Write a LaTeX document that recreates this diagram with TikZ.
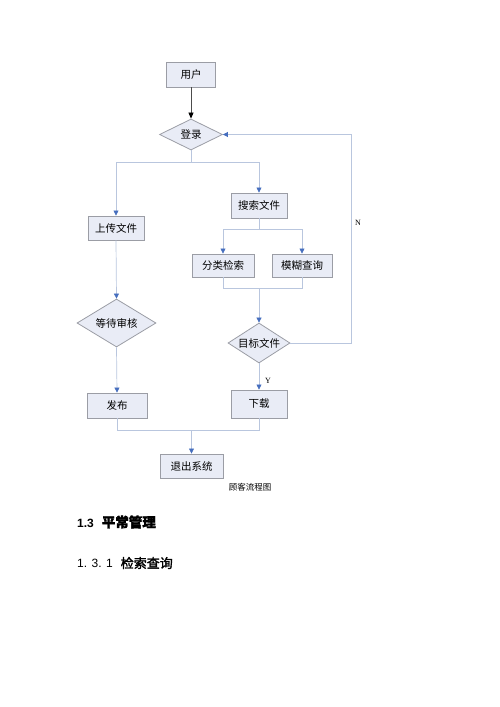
\documentclass[tikz,border=0pt]{standalone}
\usepackage{fontspec}
\setmainfont{Liberation Serif}
\newfontfamily\cjk{Noto Sans CJK SC}
\newfontfamily\cjkbold[FakeBold=2]{Noto Sans CJK SC}
\newfontfamily\headsans{Liberation Sans}
\usetikzlibrary{arrows.meta,shapes.geometric}

\definecolor{boxfill}{RGB}{233,236,246}
\definecolor{boxline}{RGB}{155,157,165}
\definecolor{flowline}{RGB}{185,198,222}
\definecolor{tipblue}{RGB}{70,110,190}

\begin{document}
\begin{tikzpicture}[x=1pt,y=-1pt,
  box/.style={draw=boxline, fill=boxfill, line width=0.9pt, minimum height=25, inner sep=0, font=\cjk\fontsize{10.5}{12}\selectfont},
  decision/.style={diamond, aspect=2, draw=boxline, fill=boxfill, line width=0.8pt, inner sep=0, font=\cjk\fontsize{10.5}{12}\selectfont},
  flow/.style={draw=flowline, line width=0.7pt},
  flowto/.style={flow, -{Triangle[width=5pt,length=5pt,color=tipblue]}}]
\useasboundingbox (0,0) rectangle (500,707);

% Steps of the flow
\node[box, minimum width=49] (user) at (191,74.5) {用户};
\node[decision, minimum width=63, minimum height=31] (login) at (191,134.5) {登录};
\node[box, minimum width=56, minimum height=24] (upload) at (116,228) {上传文件};
\node[box, minimum width=56] (search) at (259,205.5) {搜索文件};
\node[box, minimum width=62, minimum height=23] (sort) at (223,265.5) {分类检索};
\node[box, minimum width=60, minimum height=23] (fuzzy) at (302,265.5) {模糊查询};
\node[decision, minimum width=62, minimum height=40] (target) at (259,343) {目标文件};
\node[decision, minimum width=79, minimum height=48] (review) at (116.5,323) {等待审核};
\node[box, minimum width=60] (publish) at (117,405.5) {发布};
\node[box, minimum width=56, minimum height=28] (download) at (259,404) {下载};
\node[box, minimum width=63, minimum height=24] (quit) at (191.5,466) {退出系统};

% Entry
\draw[draw=black!70, line width=0.7pt, -{Triangle[width=5pt,length=6pt,color=black]}] (user) -- (login);

% Split under login
\coordinate (split1) at (191,162);
\draw[flow] (login.south) -- (split1);
\draw[flowto] (split1) -| (upload.north);
\draw[flowto] (split1) -| (search.north);

% Split under search
\coordinate (split2) at (259,229);
\draw[flow] (search.south) -- (split2);
\draw[flowto] (split2) -| (sort.north);
\draw[flowto] (split2) -| (fuzzy.north);

% Join above target
\coordinate (join1) at (259,288);
\draw[flow] (sort.south) |- (join1);
\draw[flow] (fuzzy.south) |- (join1);
\draw[flowto] (join1) -- (target.north);

% Not found: back to login
\coordinate (loopcorner) at (351,343);
\draw[flowto] (target.east) -- (loopcorner) |- (login.east);
\node[font=\fontsize{8}{9}\selectfont] (nlabel) at (358,223) {N};

% Found: download
\draw[flowto] (target.south) -- (download.north);
\node[font=\fontsize{8}{9}\selectfont] (ylabel) at (268,381) {Y};

% Upload branch
\draw[flowto] (upload.south) -- (review.north);
\draw[flowto] (review.south) -- (publish.north);

% Join at bottom
\coordinate (join2) at (191.5,430);
\draw[flow] (publish.south) |- (join2);
\draw[flow] (download.south) |- (join2);
\draw[flowto] (join2) -- (quit.north);

% Caption and headings
\node[font=\cjk\fontsize{8.5}{10}\selectfont] (caption) at (250,487) {顾客流程图};
\node[anchor=west, inner sep=0] (sec) at (77,522) {\headsans\bfseries\fontsize{12}{14}\selectfont 1.3\hspace{8pt}\cjkbold\fontsize{13.5}{15}\selectfont 平常管理};
\node[anchor=west, inner sep=0] (subsec) at (77,563) {\headsans\fontsize{12}{14}\selectfont 1. 3. 1\hspace{8pt}\cjkbold\fontsize{13}{15}\selectfont 检索查询};
\end{tikzpicture}
\end{document}
